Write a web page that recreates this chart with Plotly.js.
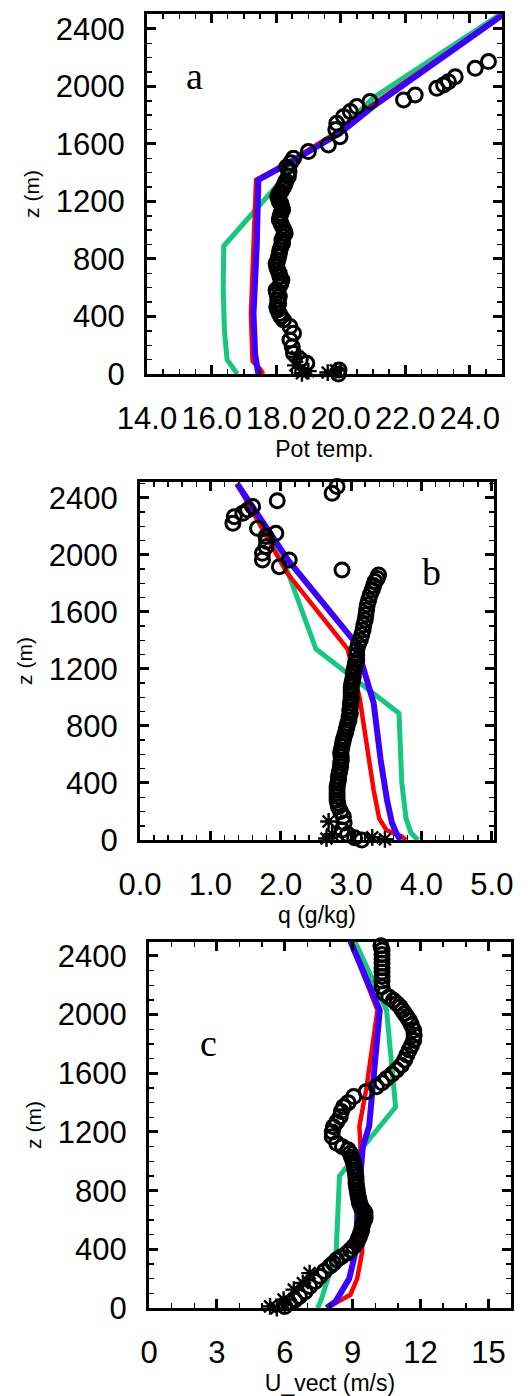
<!DOCTYPE html>
<html><head><meta charset="utf-8">
<script src="https://cdn.plot.ly/plotly-3.0.1.min.js"></script>
<style>html,body{margin:0;padding:0;background:#fff}#plot{width:531px;height:1396px}</style>
</head><body><div id="plot"></div>
<script>
// ---------- Panel a: potential temperature ----------
const aGreenZ = [0, 50, 100, 300, 600, 890, 1330, 1480, 1700, 1920, 2510];
const aGreenX = [16.8, 16.62, 16.48, 16.4, 16.36, 16.38, 18.1, 18.55, 20.0, 21.0, 25.0];
const aRedZ = [0, 30, 90, 420, 1000, 1350, 1472, 1692, 1870, 2498];
const aRedX = [17.6, 17.52, 17.27, 17.22, 17.32, 17.38, 18.37, 19.97, 20.97, 25.0];
const aBlueZ = [0, 30, 140, 420, 890, 1350, 1466, 1680, 1860, 2495];
const aBlueX = [17.45, 17.42, 17.35, 17.3, 17.4, 17.45, 18.4, 20.0, 21.0, 25.0];
const aObsZ = [0, 28, 74, 100, 144, 190, 237, 284, 330, 376, 400, 420, 445, 468, 490, 515, 540, 561, 585, 608, 630, 654, 677, 700, 723, 746, 768, 790, 815, 839, 862, 885, 910, 932, 955, 979, 1000, 1025, 1048, 1071, 1095, 1117, 1140, 1163, 1185, 1200, 1220, 1233, 1255, 1270, 1290, 1303, 1320, 1340, 1373, 1410, 1440, 1470, 1500, 1547, 1593, 1651, 1700, 1744, 1790, 1825, 1860, 1895, 1906, 1941, 1987, 2010, 2033, 2068, 2126, 2173];
const aObsX = [19.93, 19.95, 18.95, 18.75, 18.54, 18.5, 18.43, 18.54, 18.43, 18.23, 18.15, 18.1, 18.05, 18.02, 18.08, 18.05, 18.1, 18.02, 18.0, 18.1, 18.15, 18.18, 18.12, 18.1, 18.05, 18.02, 18.0, 18.05, 18.08, 18.1, 18.12, 18.15, 18.2, 18.18, 18.22, 18.28, 18.25, 18.2, 18.15, 18.1, 18.12, 18.15, 18.2, 18.18, 18.15, 18.1, 18.08, 18.05, 18.1, 18.15, 18.2, 18.23, 18.27, 18.3, 18.38, 18.4, 18.33, 18.45, 18.54, 19.0, 19.62, 19.98, 19.85, 19.88, 20.09, 20.3, 20.5, 20.91, 21.95, 22.31, 22.98, 23.19, 23.34, 23.55, 24.17, 24.58];
const aStarZ = [5, 20, 60, 120, 10, 25];
const aStarX = [18.8, 19.0, 18.6, 18.65, 19.6, 19.85];

// ---------- Panel b: specific humidity ----------
const bGreenZ = [0, 50, 150, 400, 890, 1340, 1880, 2500];
const bGreenX = [3.95, 3.85, 3.78, 3.72, 3.68, 2.5, 2.1, 1.38];
const bRedZ = [0, 25, 70, 150, 350, 700, 1000, 1200, 1340, 1880, 2500];
const bRedX = [3.78, 3.72, 3.5, 3.4, 3.32, 3.22, 3.12, 3.02, 2.95, 2.08, 1.38];
const bBlueZ = [0, 40, 120, 280, 560, 960, 1380, 1960, 2500];
const bBlueX = [3.7, 3.65, 3.58, 3.51, 3.42, 3.32, 3.07, 2.11, 1.38];
const bObsZ = [2514, 2480, 2433, 2381, 2340, 2316, 2292, 2269, 2222, 2187, 2152, 2129, 2095, 2058, 2012, 1965, 1965, 1918, 1895, 1860, 1835, 1813, 1785, 1754, 1720, 1684, 1650, 1614, 1580, 1544, 1510, 1474, 1440, 1404, 1370, 1333, 1300, 1263, 1240, 1215, 1190, 1170, 1145, 1120, 1100, 1076, 1050, 1030, 1005, 982, 960, 935, 910, 889, 865, 840, 818, 795, 772, 750, 725, 702, 680, 655, 630, 608, 585, 560, 538, 514, 490, 468, 445, 421, 398, 375, 350, 328, 305, 280, 258, 234, 200, 164, 120, 70, 40, 15, 0];
const bObsX = [2.87, 2.8, 2.73, 1.95, 1.6, 1.53, 1.46, 1.34, 1.32, 1.67, 1.93, 1.79, 1.8, 1.79, 1.74, 1.74, 2.12, 1.98, 2.87, 3.39, 3.37, 3.34, 3.32, 3.3, 3.27, 3.25, 3.23, 3.22, 3.21, 3.2, 3.18, 3.17, 3.15, 3.13, 3.1, 3.08, 3.08, 3.08, 3.06, 3.05, 3.04, 3.03, 3.03, 3.02, 3.01, 3.0, 3.0, 3.0, 3.0, 3.0, 2.99, 2.99, 2.98, 2.99, 2.97, 2.97, 2.95, 2.94, 2.93, 2.92, 2.9, 2.89, 2.88, 2.87, 2.86, 2.85, 2.86, 2.86, 2.85, 2.85, 2.84, 2.83, 2.82, 2.82, 2.81, 2.8, 2.8, 2.8, 2.8, 2.8, 2.81, 2.82, 2.85, 2.89, 2.9, 2.87, 2.95, 3.05, 3.15];
const bStarZ = [130, 40, 10, 19, 5];
const bStarX = [2.68, 2.73, 2.65, 3.3, 3.48];

// ---------- Panel c: wind speed ----------
const cGreenZ = [0, 50, 380, 900, 1370, 1640, 2030, 2500];
const cGreenX = [7.45, 7.6, 8.27, 8.42, 10.9, 10.75, 10.5, 9.1];
const cRedZ = [0, 30, 90, 200, 380, 700, 1000, 1240, 1490, 2030, 2500];
const cRedX = [7.9, 8.2, 8.9, 9.2, 9.42, 9.45, 9.38, 9.3, 9.6, 10.1, 8.9];
const cBlueZ = [0, 45, 200, 430, 630, 1100, 1240, 1490, 2030, 2500];
const cBlueX = [7.85, 8.25, 8.85, 9.2, 9.2, 9.45, 9.73, 9.88, 10.2, 8.9];
const cObsZ = [2500, 2470, 2440, 2410, 2380, 2350, 2320, 2290, 2260, 2230, 2190, 2144, 2120, 2098, 2075, 2053, 2030, 2008, 1985, 1962, 1930, 1894, 1860, 1826, 1790, 1758, 1725, 1690, 1655, 1622, 1595, 1565, 1535, 1509, 1475, 1441, 1400, 1372, 1340, 1304, 1270, 1236, 1200, 1168, 1123, 1100, 1078, 1055, 1030, 1010, 987, 965, 940, 918, 896, 872, 850, 828, 805, 782, 760, 738, 715, 698, 680, 662, 647, 628, 610, 595, 578, 555, 530, 510, 488, 470, 450, 420, 395, 374, 350, 329, 305, 284, 250, 216, 180, 147, 110, 79, 55, 34, 10];
const cObsX = [10.25, 10.25, 10.3, 10.3, 10.3, 10.3, 10.3, 10.3, 10.3, 10.3, 10.3, 10.4, 10.6, 10.8, 10.95, 11.1, 11.2, 11.3, 11.4, 11.5, 11.6, 11.7, 11.72, 11.7, 11.6, 11.5, 11.4, 11.3, 11.15, 10.95, 10.75, 10.5, 10.3, 10.05, 9.6, 9.05, 8.8, 8.6, 8.5, 8.45, 8.3, 8.15, 8.1, 8.1, 8.3, 8.55, 8.8, 8.9, 8.95, 9.0, 9.05, 9.08, 9.1, 9.12, 9.15, 9.15, 9.15, 9.18, 9.2, 9.22, 9.25, 9.28, 9.3, 9.35, 9.4, 9.5, 9.55, 9.55, 9.55, 9.5, 9.45, 9.42, 9.4, 9.35, 9.3, 9.25, 9.2, 9.05, 8.9, 8.75, 8.5, 8.3, 8.15, 8.0, 7.75, 7.55, 7.35, 7.1, 6.9, 6.65, 6.45, 6.2, 6.0];
const cStarZ = [238, 170, 125, 57, 11, 0, 25];
const cStarX = [7.1, 6.8, 6.4, 5.95, 5.35, 5.65, 6.0];

const GREEN = 'rgb(20,200,125)', RED = 'rgb(255,0,0)', BLUE = 'rgb(60,0,255)';
const FONT = 'Liberation Sans, Arial, Helvetica, sans-serif';
const SERIF = 'Liberation Serif, Times New Roman, serif';

function panel(sfx, g, r, b, obs, star) {
  const xa = 'x' + sfx, ya = 'y' + sfx;
  return [
    {x: g[0], y: g[1], xaxis: xa, yaxis: ya, mode: 'lines', line: {color: GREEN, width: 5}},
    {x: r[0], y: r[1], xaxis: xa, yaxis: ya, mode: 'lines', line: {color: RED, width: 4.5}},
    {x: b[0], y: b[1], xaxis: xa, yaxis: ya, mode: 'lines', line: {color: BLUE, width: 6}},
    {x: obs[0], y: obs[1], xaxis: xa, yaxis: ya, mode: 'markers', cliponaxis: false,
     marker: {symbol: 'circle-open', size: 14, color: 'black', line: {color: 'black', width: 3}}},
    {x: star[0], y: star[1], xaxis: xa, yaxis: ya, mode: 'markers', cliponaxis: false,
     marker: {symbol: 'asterisk-open', size: 14, color: 'black', line: {color: 'black', width: 2.4}}}
  ];
}

const data = [].concat(
  panel('', [aGreenX, aGreenZ], [aRedX, aRedZ], [aBlueX, aBlueZ], [aObsX, aObsZ], [aStarX, aStarZ]),
  panel('2', [bGreenX, bGreenZ], [bRedX, bRedZ], [bBlueX, bBlueZ], [bObsX, bObsZ], [bStarX, bStarZ]),
  panel('3', [cGreenX, cGreenZ], [cRedX, cRedZ], [cBlueX, cBlueZ], [cObsX, cObsZ], [cStarX, cStarZ])
);

const W = 531, H = 1396;
function xax(l, r, anchor, range, dtick, minor, fmt, title) {
  return {domain: [l / W, r / W], anchor: anchor, range: range, dtick: dtick, tick0: 0,
    tickformat: fmt, tickangle: 0, ticks: 'inside', ticklen: 9, tickwidth: 3, tickcolor: 'black',
    minor: {dtick: minor, ticks: 'inside', ticklen: 5, tickwidth: 1.5, tickcolor: 'black'},
    showline: true, linewidth: 3, linecolor: 'black', mirror: 'ticks',
    showgrid: false, zeroline: false, ticklabelstandoff: 15,
    tickfont: {family: FONT, size: 31, color: 'black'},
    title: {text: title, font: {family: FONT, size: 23, color: 'black'}, standoff: 2}};
}
function yax(t, b, anchor, range) {
  return {domain: [(H - b) / H, (H - t) / H], anchor: anchor, range: range, dtick: 400, tick0: 0,
    ticks: 'inside', ticklen: 9, tickwidth: 3, tickcolor: 'black',
    minor: {dtick: 100, ticks: 'inside', ticklen: 5, tickwidth: 1.5, tickcolor: 'black'},
    showline: true, linewidth: 3, linecolor: 'black', mirror: 'ticks',
    showgrid: false, zeroline: false, ticklabelstandoff: 13,
    tickfont: {family: FONT, size: 31, color: 'black'},
    title: {text: 'z (m)', font: {family: FONT, size: 21, color: 'black'}, standoff: 11}};
}

const layout = {
  width: W, height: H, margin: {l: 0, r: 0, t: 0, b: 0},
  paper_bgcolor: 'white', plot_bgcolor: 'white', showlegend: false,
  xaxis: xax(147, 502, 'y', [14, 25.0], 2, 0.5, '.1f', 'Pot temp.'),
  yaxis: yax(14, 374, 'x', [0, 2504]),
  xaxis2: xax(140, 494, 'y2', [0, 5.03], 1, 0.2, '.1f', 'q (g/kg)'),
  yaxis2: yax(482, 840, 'x2', [0, 2512]),
  xaxis3: xax(149, 511, 'y3', [0, 16], 3, 1, 'd', 'U_vect (m/s)'),
  yaxis3: yax(942, 1308, 'x3', [0, 2495]),
  annotations: [
    {text: 'a', x: 15.46, y: 2073, xref: 'x', yref: 'y', showarrow: false, font: {family: SERIF, size: 38, color: 'black'}},
    {text: 'b', x: 4.14, y: 1883, xref: 'x2', yref: 'y2', showarrow: false, font: {family: SERIF, size: 38, color: 'black'}},
    {text: 'c', x: 2.62, y: 1804, xref: 'x3', yref: 'y3', showarrow: false, font: {family: SERIF, size: 38, color: 'black'}}
  ]
};

Plotly.newPlot('plot', data, layout, {staticPlot: true, displayModeBar: false});
</script>
</body></html>
